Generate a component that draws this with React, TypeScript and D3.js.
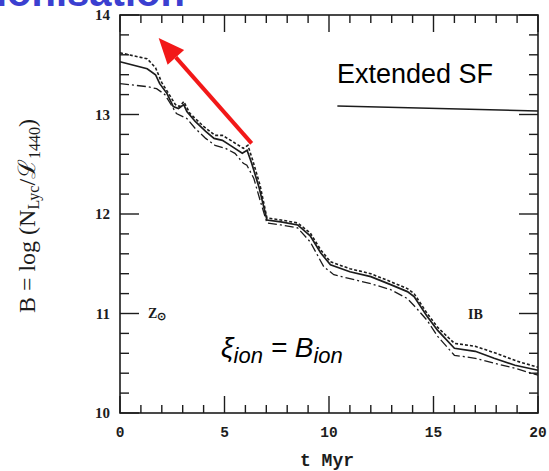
import React from "react";
import * as d3 from "d3";

const solidT = [0, 1.3, 1.7, 1.9, 2.25, 2.55, 2.8, 3.05, 3.2, 3.6, 4.1, 4.5, 4.9, 5.35, 5.85, 6.08, 6.3, 6.65, 7.03, 7.7, 8.5, 9.1, 9.6, 10.07, 11, 12, 12.95, 13.75, 14.07, 14.7, 15.2, 16, 17, 17.9, 18.9, 20];
const solidB = [13.53, 13.46, 13.4, 13.31, 13.21, 13.08, 13.06, 13.1, 13.03, 12.93, 12.83, 12.76, 12.74, 12.68, 12.61, 12.64, 12.51, 12.27, 11.94, 11.92, 11.89, 11.78, 11.61, 11.49, 11.42, 11.37, 11.29, 11.22, 11.17, 10.97, 10.83, 10.65, 10.62, 10.55, 10.48, 10.43];

const dottedT = [0, 1.3, 1.7, 2.0, 2.3, 2.65, 2.85, 3.05, 3.35, 4.0, 4.55, 4.9, 5.3, 5.9, 6.12, 6.35, 6.7, 7.03, 7.7, 8.5, 9.1, 9.6, 10.07, 11, 12, 12.95, 13.75, 14.07, 14.7, 15.2, 16, 17, 18, 19, 20];
const dottedB = [13.62, 13.56, 13.47, 13.32, 13.22, 13.1, 13.08, 13.13, 13.01, 12.88, 12.79, 12.79, 12.74, 12.66, 12.69, 12.54, 12.29, 11.96, 11.94, 11.91, 11.81, 11.64, 11.52, 11.45, 11.4, 11.32, 11.25, 11.2, 11.0, 10.86, 10.7, 10.67, 10.6, 10.52, 10.46];

const dashDotT = [0, 1.3, 1.75, 2.15, 2.7, 3.2, 3.6, 4.1, 4.55, 5.05, 5.5, 5.9, 6.07, 6.4, 6.7, 7.03, 7.7, 8.5, 9.1, 9.75, 10.23, 11, 12, 12.95, 13.75, 14.2, 14.7, 15.2, 16, 17, 17.9, 18.9, 20];
const dashDotB = [13.31, 13.28, 13.26, 13.2, 13.01, 12.96, 12.86, 12.76, 12.69, 12.66, 12.61, 12.51, 12.49, 12.36, 12.14, 11.91, 11.89, 11.86, 11.72, 11.47, 11.39, 11.35, 11.3, 11.24, 11.15, 11.05, 10.93, 10.77, 10.58, 10.55, 10.5, 10.45, 10.38];

const extendedT = [10.4, 20];
const extendedB = [13.085, 13.035];

const xTickLabels = [0, 5, 10, 15, 20];
const yTickLabels = [10, 11, 12, 13, 14];

const arrowFrom = [6.3, 12.71];
const arrowTo = [1.85, 13.77];

const INK = "#1c1c1c";

export default function App() {
  const x = d3.scaleLinear().domain([0, 20]).range([120, 538]);
  const y = d3.scaleLinear().domain([10, 14]).range([413, 15]);

  const line = d3
    .line<[number, number]>()
    .x((d) => x(d[0]))
    .y((d) => y(d[1]));

  const zip = (ts: number[], vs: number[]) => ts.map((t, i) => [t, vs[i]] as [number, number]);

  const xMinor = d3.range(0, 20.001, 1);
  const yMinor = d3.range(10, 14.001, 0.2);
  const isMajorX = (t: number) => Math.abs(t % 5) < 1e-6;
  const isMajorY = (v: number) => Math.abs(v - Math.round(v)) < 1e-6;

  const x0 = x(0), x1 = x(20), yb = y(10), yt = y(14);

  const ax0 = x(arrowFrom[0]), ay0 = y(arrowFrom[1]);
  const ax1 = x(arrowTo[0]), ay1 = y(arrowTo[1]);
  const ang = Math.atan2(ay1 - ay0, ax1 - ax0);
  const headLen = 26, headHalf = 11;
  const bx = ax1 - headLen * Math.cos(ang), by = ay1 - headLen * Math.sin(ang);
  const px = -Math.sin(ang), py = Math.cos(ang);
  const head = `M${ax1},${ay1} L${bx + headHalf * px},${by + headHalf * py} L${bx - headHalf * px},${by - headHalf * py} Z`;

  return (
    <svg
      width={549}
      height={471}
      style={{ position: "absolute", left: 0, top: 0, background: "#fff" }}
    >
      <rect width={549} height={471} fill="#fff" />
      {/* cut-off slide title */}
      <text x={-4} y={6} fontFamily="Liberation Sans" fontWeight="bold" fontSize={40} fill="#3b3fd0">
        ionisation
      </text>

      {/* frame */}
      <rect x={x0} y={yt} width={x1 - x0} height={yb - yt} fill="none" stroke={INK} strokeWidth={1.6} />

      {xMinor.map((t) => {
        const len = isMajorX(t) ? 17 : 8;
        return (
          <g key={"xt" + t}>
            <line x1={x(t)} x2={x(t)} y1={yb} y2={yb - len} stroke={INK} strokeWidth={1.4} />
            <line x1={x(t)} x2={x(t)} y1={yt} y2={yt + len} stroke={INK} strokeWidth={1.4} />
          </g>
        );
      })}
      {yMinor.map((v) => {
        const len = isMajorY(v) ? 19 : 9;
        return (
          <g key={"yt" + v.toFixed(1)}>
            <line x1={x0} x2={x0 + len} y1={y(v)} y2={y(v)} stroke={INK} strokeWidth={1.4} />
            <line x1={x1} x2={x1 - len} y1={y(v)} y2={y(v)} stroke={INK} strokeWidth={1.4} />
          </g>
        );
      })}

      {xTickLabels.map((t) => (
        <text key={"xl" + t} x={x(t)} y={437} textAnchor="middle" fontFamily="Liberation Mono" fontWeight="bold" fontSize={14.5} fill={INK}>
          {t}
        </text>
      ))}
      {yTickLabels.map((v) => (
        <text key={"yl" + v} x={110} y={y(v) + 5} textAnchor="end" fontFamily="Liberation Serif" fontWeight="bold" fontSize={15} fill={INK}>
          {v}
        </text>
      ))}

      <text x={327} y={466} textAnchor="middle" fontFamily="Liberation Mono" fontWeight="bold" fontSize={18} fill={INK}>
        t Myr
      </text>
      <text transform="translate(35,216) rotate(-90)" textAnchor="middle" fontFamily="Liberation Serif" fontSize={24} fill={INK}>
        <tspan>B = log  (N</tspan>
        <tspan fontSize={16} dy={4}>Lyc</tspan>
        <tspan dy={-4}>/ℒ</tspan>
        <tspan fontSize={16} dy={5}>1440</tspan>
        <tspan dy={-5}>)</tspan>
      </text>

      <path d={line(zip(dottedT, dottedB)) || ""} fill="none" stroke={INK} strokeWidth={1.6} strokeDasharray="3,2" />
      <path d={line(zip(dashDotT, dashDotB)) || ""} fill="none" stroke={INK} strokeWidth={1.3} strokeDasharray="9,3,2,3" />
      <path d={line(zip(solidT, solidB)) || ""} fill="none" stroke={INK} strokeWidth={1.7} />
      <path d={line(zip(extendedT, extendedB)) || ""} fill="none" stroke={INK} strokeWidth={1.6} />

      <text x={148} y={318} fontFamily="Liberation Serif" fontWeight="bold" fontSize={14} fill={INK}>
        Z<tspan fontSize={11} dy={2}>⊙</tspan>
      </text>
      <text x={468} y={319} fontFamily="Liberation Serif" fontWeight="bold" fontSize={14} fill={INK}>
        IB
      </text>
      <text x={337} y={83} fontFamily="Liberation Sans" fontSize={27} fill="#000">
        Extended SF
      </text>
      <text x={221} y={357} fontFamily="Liberation Sans" fontStyle="italic" fontSize={28} fill="#000">
        ξ<tspan fontSize={22} dy={6}>ion</tspan>
        <tspan dy={-6}> = B</tspan>
        <tspan fontSize={22} dy={6}>ion</tspan>
      </text>

      <line x1={ax0} y1={ay0} x2={bx} y2={by} stroke="#f21818" strokeWidth={4} />
      <path d={head} fill="#f21818" />
    </svg>
  );
}
